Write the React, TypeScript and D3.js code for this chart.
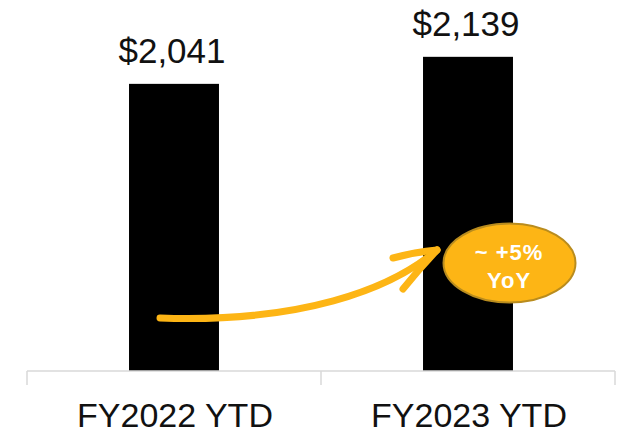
import React from "react";
import * as d3 from "d3";

const categories = ["FY2022 YTD", "FY2023 YTD"];
const values = [2041, 2139];
const valueLabels = ["$2,041", "$2,139"];
const yDomain = [1000, 2200];
const badgeLines = ["~ +5%", "YoY"];

const W = 621;
const H = 433;

export default function App() {
  const x = d3.scaleBand<string>().domain(categories).range([27, 615]).padding(0);
  const y = d3.scaleLinear().domain(yDomain).range([371, 40]);
  const barW = x.bandwidth() * 0.306;
  const base = y(yDomain[0]);
  const gold = "#FDB515";

  const shaft = "M160,318 C300,323 390,290 437,250";
  const barbs = "M393,258 Q415,252 437,250 M403,289 Q420,268 437,250";

  return (
    <div style={{ position: "absolute", left: 0, top: 0 }}>
      <svg width={W} height={H} style={{ display: "block", background: "#fff" }}>
        {categories.map((c, i) => {
          const cx = (x(c) as number) + x.bandwidth() / 2;
          return (
            <g key={c}>
              <rect x={cx - barW / 2} y={y(values[i])} width={barW} height={base - y(values[i])} fill="#000" />
              <text
                x={cx - 2}
                y={y(values[i]) - 21}
                textAnchor="middle"
                fontFamily="'Liberation Sans', Arial, sans-serif"
                fontSize={35}
                fill="#111"
              >
                {valueLabels[i]}
              </text>
              <text
                x={cx + 1}
                y={427}
                textAnchor="middle"
                fontFamily="'Liberation Sans', Arial, sans-serif"
                fontSize={34}
                fill="#111"
              >
                {c}
              </text>
            </g>
          );
        })}
        <line x1={27} x2={615} y1={base} y2={base} stroke="#d9d9d9" strokeWidth={1.5} />
        {[27, 321, 615].map((tx) => (
          <line key={tx} x1={tx} x2={tx} y1={base} y2={385} stroke="#d9d9d9" strokeWidth={1.5} />
        ))}
        <path d={shaft} fill="none" stroke={gold} strokeWidth={7} strokeLinecap="round" />
        <path d={barbs} fill="none" stroke={gold} strokeWidth={7} strokeLinecap="round" />
        <ellipse cx={509.5} cy={263} rx={66} ry={39.5} fill={gold} stroke="#B98C1E" strokeWidth={2} />
        <text
          x={509}
          y={260}
          textAnchor="middle"
          fontFamily="'Liberation Sans', Arial, sans-serif"
          fontWeight="bold"
          fontSize={22}
          letterSpacing={1}
          fill="#fff"
        >
          {badgeLines[0]}
        </text>
        <text
          x={509}
          y={288}
          textAnchor="middle"
          fontFamily="'Liberation Sans', Arial, sans-serif"
          fontWeight="bold"
          fontSize={22}
          letterSpacing={1}
          fill="#fff"
        >
          {badgeLines[1]}
        </text>
      </svg>
    </div>
  );
}
